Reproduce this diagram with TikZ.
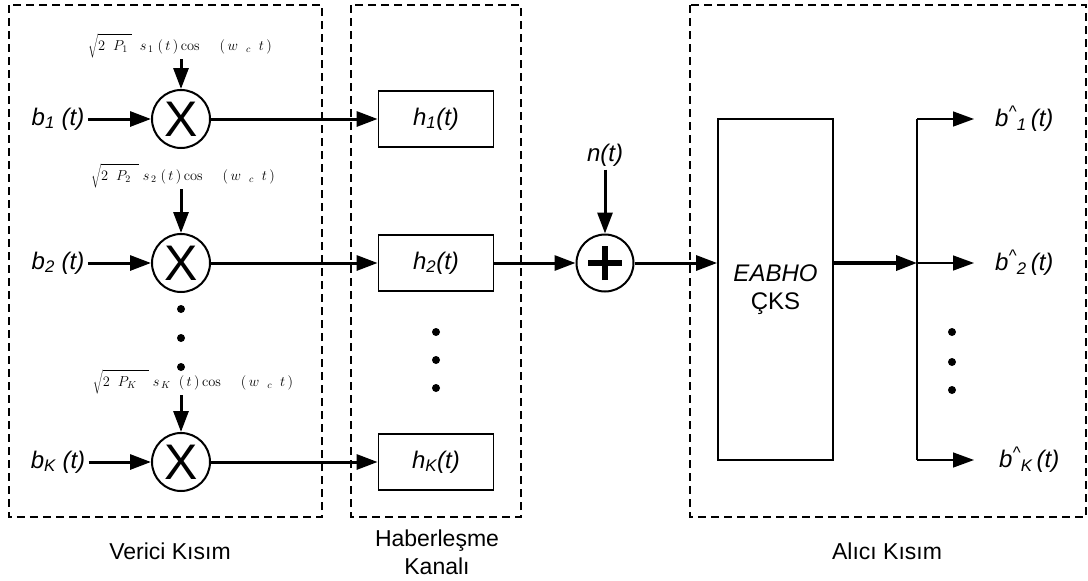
\documentclass[tikz,border=0pt]{standalone}
\usepackage[no-math]{fontspec}
\setmainfont{Liberation Sans}
\usetikzlibrary{arrows.meta,positioning}

\begin{document}
\begin{tikzpicture}[x=1pt,y=-1pt,>={Triangle[length=21pt,width=15pt]},
	font=\fontsize{24}{28}\selectfont\itshape,
	sig/.style={line width=3pt},
	branch/.style={line width=1.4pt},
	part/.style={dashed,dash pattern=on 8pt off 5pt,line width=1.5pt},
	mult/.style={circle,draw,line width=2pt,minimum size=58pt,inner sep=0pt,font=\fontsize{50}{50}\selectfont\upshape},
	adder/.style={circle,draw,line width=2pt,minimum size=57pt,inner sep=0pt,
		path picture={\draw[line width=6pt] ([xshift=-17pt]path picture bounding box.center) -- ([xshift=17pt]path picture bounding box.center)
		([yshift=-17pt]path picture bounding box.center) -- ([yshift=17pt]path picture bounding box.center);}},
	chan/.style={draw,line width=1.8pt,minimum width=115pt,minimum height=56pt},
	carrier/.style={text=black,font=\fontsize{14}{15}\selectfont,inner sep=1pt},
	caption/.style={font=\fontsize{23}{28}\selectfont\upshape,align=center},
	outlbl/.style={anchor=west,inner sep=0pt}]
	\useasboundingbox (0,0) rectangle (1088,581);
	% dashed parts
	\draw[part] (9,5) rectangle (322,517);
	\draw[part] (351,5) rectangle (521,517);
	\draw[part] (690,5) rectangle (1086,517);
	\node[caption] (tx) at (170,551) {Verici Kısım};
	\node[caption] (ch) at (437,552) {Haberleşme\\Kanalı};
	\node[caption] (rx) at (887,551) {Alıcı Kısım};
	% transmitter
	\node (b1) at (58,119) {b\textsubscript{1}\ (t)};
	\node (b2) at (58,263) {b\textsubscript{2}\ (t)};
	\node (bK) at (58,462) {b\textsubscript{K}\ (t)};
	\node[mult] (m1) at (181,119) {X};
	\node[mult] (m2) at (181,263) {X};
	\node[mult] (mK) at (181,462) {X};
	\node[carrier] (c1) at (180,46) {$\sqrt{\rule[-5pt]{0pt}{18pt}2\;\;P_{1}\;}\;\;s_{\,1}\;\big(\,t\,\big)\,\mathrm{cos}\;\;\;\;\;\big(\,w\;\;_{c}\;\;t\,\big)$};
	\node[carrier] (c2) at (183,176) {$\sqrt{\rule[-5pt]{0pt}{18pt}2\;\;P_{2}\;\;}\;s_{\,2}\;\big(\,t\,\big)\,\mathrm{cos}\;\;\;\;\;\big(\,w\;\;_{c}\;\;t\,\big)$};
	\node[carrier] (cK) at (193,382) {$\sqrt{\rule[-5pt]{0pt}{18pt}2\;\;P_{K}\;\;\;}\;s_{\,K}\;\;\big(\,t\,\big)\,\mathrm{cos}\;\;\;\;\;\big(\,w\;\;_{c}\;\;t\,\big)$};
	\foreach \y in {309,338,367} \fill (181,\y) circle (4pt);
	\draw[sig,->] (b1) -- (m1);
	\draw[sig,->] (b2) -- (m2);
	\draw[sig,->] (bK) -- (mK);
	\draw[sig,->] (m1 |- c1.south) -- (m1);
	\draw[sig,->] (m2 |- c2.south) -- (m2);
	\draw[sig,->] (mK |- cK.south) -- (mK);
	% channel
	\node[chan] (h1) at (436,119) {h\textsubscript{1}(t)};
	\node[chan] (h2) at (436,263) {h\textsubscript{2}(t)};
	\node[chan] (hK) at (436,462) {h\textsubscript{K}(t)};
	\foreach \y in {332,360,388} \fill (436,\y) circle (4pt);
	\draw[sig,->] (m1) -- (h1);
	\draw[sig,->] (m2) -- (h2);
	\draw[sig,->] (mK) -- (hK);
	\node[adder] (add) at (605,263) {};
	\node (n) at (605,155) {n(t)};
	\draw[sig,->] (n) -- (add);
	\draw[sig,->] (h2) -- (add);
	% receiver
	\node[chan,minimum height=341pt,align=center,font=\fontsize{24}{28}\selectfont\upshape] (det) at (775.5,289.5) {\textit{EABHO}\\ÇKS};
	\draw[sig,->] (add) -- (add -| det.west);
	\coordinate (bus1) at (917,119);
	\coordinate (bus2) at (917,263);
	\coordinate (busK) at (917,460);
	\draw[line width=3.6pt,->] (det.east |- bus2) -- (bus2);
	\draw[branch] (bus1) -- (busK);
	\node[outlbl] (o1) at (995,119) {b\textsuperscript{\^{}}\textsubscript{1}\,(t)};
	\node[outlbl] (o2) at (995,263) {b\textsuperscript{\^{}}\textsubscript{2}\,(t)};
	\node[outlbl] (oK) at (999,460) {b\textsuperscript{\^{}}\textsubscript{K}\,(t)};
	\draw[branch,->,shorten >=21pt] (bus1) -- (o1);
	\draw[branch,->,shorten >=21pt] (bus2) -- (o2);
	\draw[branch,->,shorten >=25pt] (busK) -- (oK);
	\foreach \y in {332,362,390} \fill (952,\y) circle (4pt);
\end{tikzpicture}
\end{document}
